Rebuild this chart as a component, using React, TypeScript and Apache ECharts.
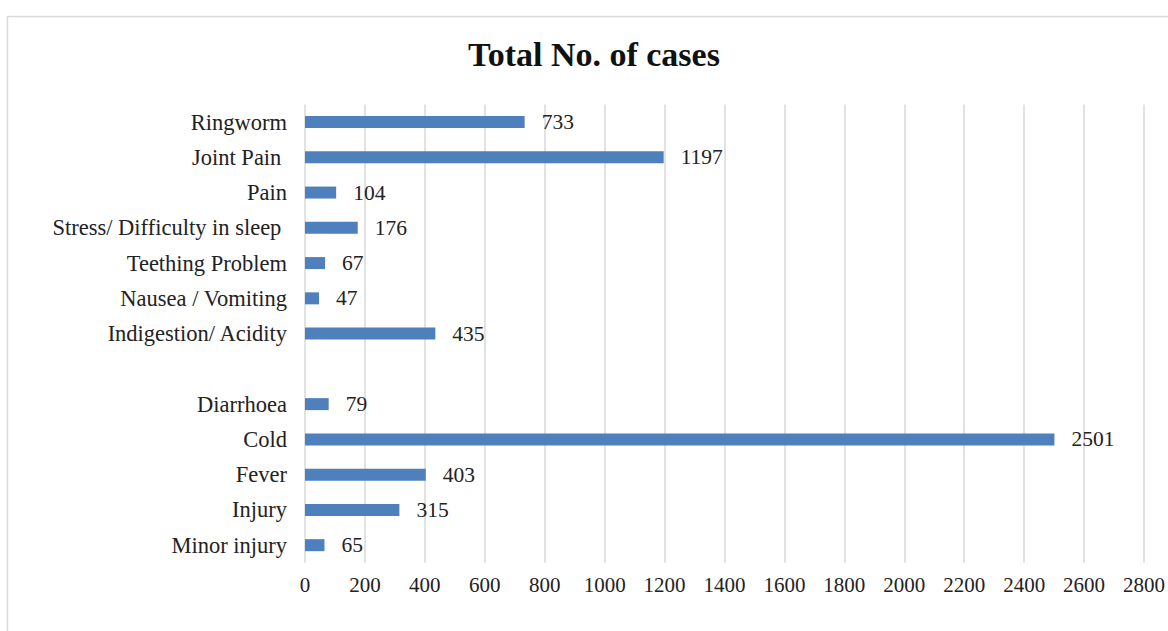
import React, { useEffect, useRef } from "react";
import * as echarts from "echarts";

const categories = [
  "Ringworm",
  "Joint Pain ",
  "Pain",
  "Stress/ Difficulty in sleep ",
  "Teething Problem",
  "Nausea / Vomiting",
  "Indigestion/ Acidity",
  "",
  "Diarrhoea",
  "Cold",
  "Fever",
  "Injury",
  "Minor injury",
];
const values: (number | null)[] = [733, 1197, 104, 176, 67, 47, 435, null, 79, 2501, 403, 315, 65];
const xMin = 0;
const xMax = 2800;
const xStep = 200;
const titleText = "Total No. of cases";

export default function App() {
  const ref = useRef<HTMLDivElement>(null);
  useEffect(() => {
    if (!ref.current) return;
    const chart = echarts.init(ref.current, undefined, { renderer: "svg" });
    const font = "'Liberation Serif', 'Times New Roman', serif";
    chart.setOption({
      animation: false,
      backgroundColor: "#ffffff",
      title: {
        text: titleText,
        left: 589,
        top: 32,
        textAlign: "center",
        textStyle: {
          fontFamily: font,
          fontSize: 34,
          fontWeight: "bold",
          color: "#111111",
          lineHeight: 34,
        },
      },
      graphic: [
        {
          type: "rect",
          left: 5,
          top: 14,
          shape: { x: 0, y: 0, width: 1200, height: 700 },
          style: { fill: "none", stroke: "#d9d9d9", lineWidth: 1.5 },
          silent: true,
        },
      ],
      grid: { left: 305, right: 20, top: 104.4, bottom: 68.2, containLabel: false },
      xAxis: {
        type: "value",
        min: xMin,
        max: xMax,
        interval: xStep,
        axisLine: { show: false },
        axisTick: { show: false },
        splitLine: { show: true, lineStyle: { color: "#d9d9d9", width: 1.5 } },
        axisLabel: {
          margin: 12,
          fontFamily: font,
          fontSize: 21,
          color: "#222222",
          formatter: (v: number) => String(v),
        },
      },
      yAxis: {
        type: "category",
        inverse: true,
        data: categories,
        axisLine: { show: false },
        axisTick: { show: false },
        splitLine: { show: false },
        axisLabel: {
          margin: 18,
          fontFamily: font,
          fontSize: 22.5,
          color: "#222222",
        },
      },
      series: [
        {
          type: "bar",
          data: values,
          barWidth: 12,
          itemStyle: { color: "#4e80bd" },
          label: {
            show: true,
            position: "right",
            distance: 17,
            fontFamily: font,
            fontSize: 21.5,
            color: "#222222",
          },
        },
      ],
    });
    return () => chart.dispose();
  }, []);
  return (
    <div
      ref={ref}
      style={{ position: "absolute", left: 0, top: 0, width: 1168, height: 631 }}
    />
  );
}
